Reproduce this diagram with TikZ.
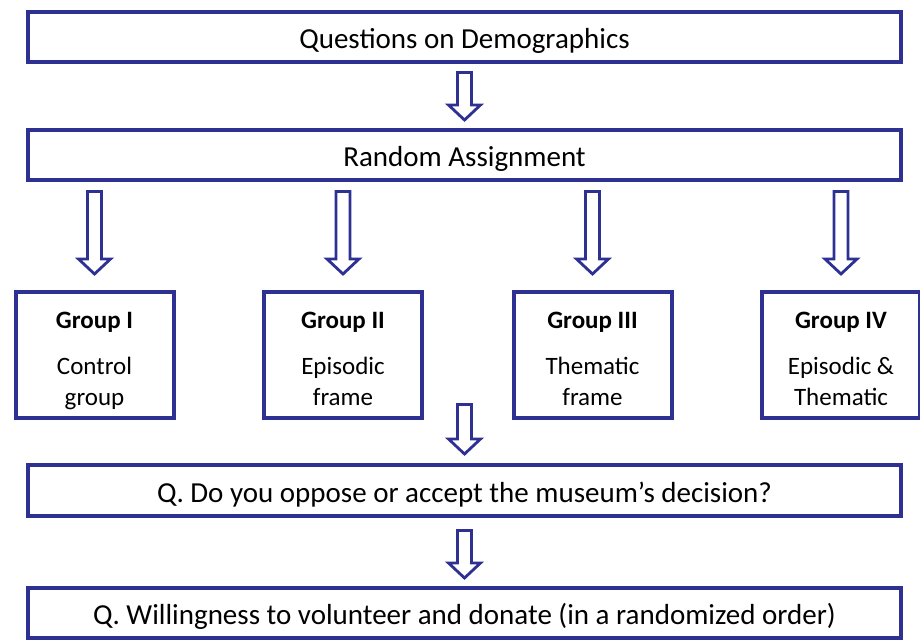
\documentclass[tikz,border=0pt]{standalone}
\usepackage{fontspec}
\setmainfont{Carlito}
\usetikzlibrary{calc}
\definecolor{fblue}{RGB}{46,49,146}
\newcommand{\toprl}{\rule{0pt}{31pt}}
\newcommand{\botrl}{\rule[-8pt]{0pt}{8pt}}
\begin{document}
\begin{tikzpicture}[x=1pt,y=1pt,
  mainbox/.style={draw=fblue, line width=4pt, minimum width=873pt, minimum height=50pt, inner sep=0pt, text height=28pt, text depth=5pt, font=\fontsize{29}{34}\selectfont},
  groupbox/.style={draw=fblue, line width=4pt, minimum width=158pt, minimum height=126pt, inner sep=0pt, align=center, font=\fontsize{25}{31}\selectfont},
  blockarr/.style={draw=fblue, fill=white, line width=2.8pt, line join=miter,
    to path={let \p1=(\tikztostart), \p2=(\tikztotarget) in
      (\x1-7pt,\y1) -- (\x1+7pt,\y1) -- (\x1+7pt,\y2+15pt) -- (\x1+16pt,\y2+15pt)
      -- (\x1,\y2) -- (\x1-16pt,\y2+15pt) -- (\x1-7pt,\y2+15pt) -- cycle}}
]
\useasboundingbox (0,0) rectangle (920,-640);

\node[mainbox] (demo) at (464.5,-37) {Questions on Demographics};
\node[mainbox] (rand) at (464.5,-155) {Random Assignment};

\node[groupbox] (g1) at (94.5,-355) {\toprl\textbf{Group I}\\[15pt]Control\\group\botrl};
\node[groupbox] (g2) at (343,-355) {\toprl\textbf{Group II}\\[15pt]Episodic\\frame\botrl};
\node[groupbox] (g3) at (592.5,-355) {\toprl\textbf{Group III}\\[15pt]Thematic\\frame\botrl};
\node[groupbox] (g4) at (841,-355) {\toprl\textbf{Group IV}\\[15pt]Episodic \&\\Thematic\botrl};

\node[mainbox, minimum height=51pt] (q1) at (464.5,-490.5) {Q. Do you oppose or accept the museum’s decision?};
\node[mainbox] (q2) at (464.5,-613) {Q. Willingness to volunteer and donate (in a randomized order)};

\coordinate (gmid) at (464.5,-404.5);

\draw[blockarr] ($(demo.south)+(0,-8.5)$) to ($(rand.north)+(0,8)$);
\foreach \g in {g1,g2,g3,g4}{
  \draw[blockarr] ($(rand.south -| \g.north)+(0,-9.5)$) to ($(\g.north)+(0,16)$);
}
\draw[blockarr] (gmid) to ($(q1.north)+(0,9)$);
\draw[blockarr] ($(q1.south)+(0,-12.5)$) to ($(q2.north)+(0,8)$);
\end{tikzpicture}
\end{document}
